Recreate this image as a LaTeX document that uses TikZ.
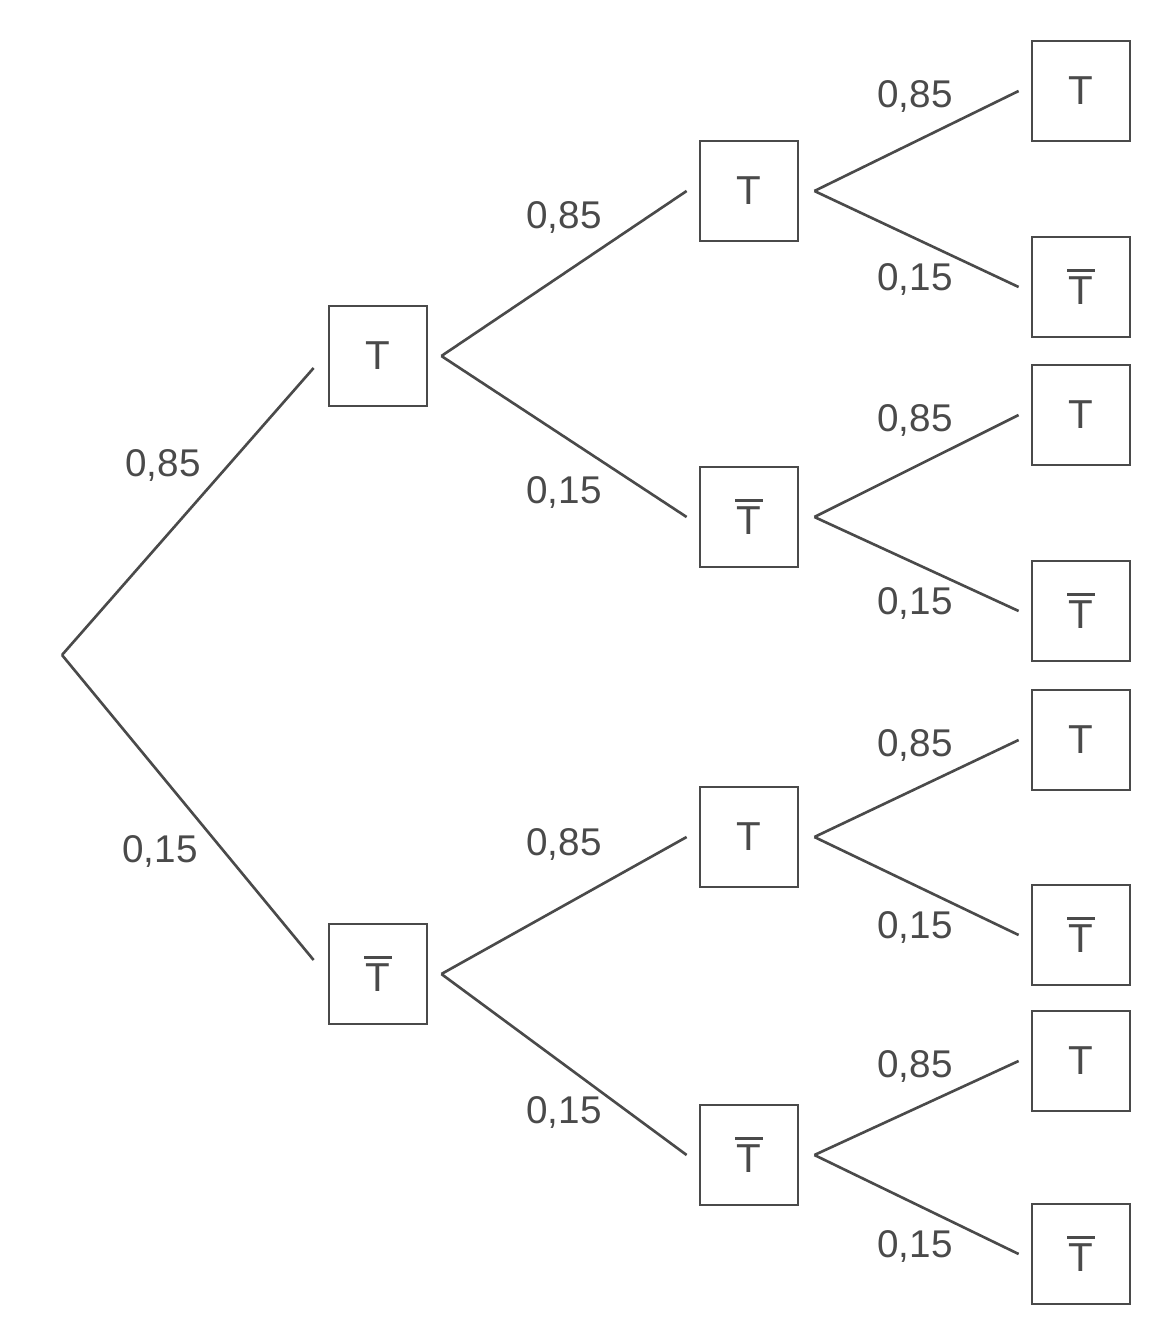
\documentclass[tikz,border=0pt]{standalone}
\usepackage{fontspec}
\setmainfont{Liberation Sans}
\usetikzlibrary{positioning}
\definecolor{ink}{HTML}{4A4A4A}
\newcommand{\Tb}{\makebox[0pt][l]{\hspace{-0.03em}\raisebox{0.82em}{\rule{0.67em}{1.3pt}}}T}
\tikzset{
  box/.style={draw=ink, line width=1.6pt, minimum width=1.96cm, minimum height=2cm, font=\fontsize{23}{26}\selectfont, text=ink},
  prob/.style={font=\fontsize{22}{26}\selectfont, text=ink},
  edge/.style={draw=ink, line width=1.5pt}
}
\begin{document}
\begin{tikzpicture}[x=0.02cm,y=-0.02cm]
\useasboundingbox (0,0) rectangle (1173,1341);
\coordinate (root) at (62,655);
% first level
\node[box] (a) at (378,356) {T};
\node[box] (b) at (378,974) {\Tb};
\draw[edge] (root)--([shift={(-14,12)}]a.west);
\draw[edge] (root)--([shift={(-14,-14)}]b.west);
\node[prob] (pa) at (163,465) {0,85};
\node[prob] (pb) at (160,851) {0,15};
% second level
\node[box] (aa) at (749,191) {T};
\node[box] (ab) at (749,517) {\Tb};
\node[box] (ba) at (749,837) {T};
\node[box] (bb) at (749,1155) {\Tb};
\foreach \p/\c in {a/aa,a/ab,b/ba,b/bb}
  \draw[edge] ([xshift=0.26cm]\p.east)--([xshift=-0.24cm]\c.west);
\node[prob] (paa) at (564,217) {0,85};
\node[prob] (pab) at (564,492) {0,15};
\node[prob] (pba) at (564,844) {0,85};
\node[prob] (pbb) at (564,1112) {0,15};
% third level
\foreach \p/\yt/\yb in {aa/91/287,ab/415/611,ba/740/935,bb/1061/1254}{
  \node[box] (\p a) at (1081,\yt) {T};
  \node[box] (\p b) at (1081,\yb) {\Tb};
  \draw[edge] ([xshift=0.3cm]\p.east)--([xshift=-0.24cm]\p a.west);
  \draw[edge] ([xshift=0.3cm]\p.east)--([xshift=-0.24cm]\p b.west);
  \node[prob] at (915,\yt+5) {0,85};
  \node[prob] at (915,\yb-8) {0,15};
}
\end{tikzpicture}
\end{document}
